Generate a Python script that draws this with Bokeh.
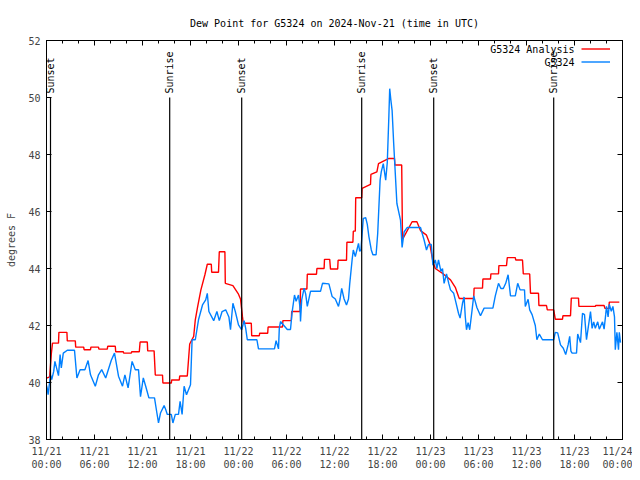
import numpy as np
import pandas as pd
from bokeh.plotting import figure
from bokeh.models import (DatetimeAxis, LinearAxis, FixedTicker, DatetimeTickFormatter,
                          Range1d, Legend, LegendItem, Label)
from bokeh.core.properties import value
from bokeh.embed import file_html
from bokeh.resources import INLINE

BASE = pd.Timestamp("2024-11-21 00:00")
TITLE = "Dew Point for G5324 on 2024-Nov-21 (time in UTC)"

# hours since 2024-11-21 00:00 UTC
analysis_hours = [0.0, 0.4, 0.6, 0.75, 1.5, 1.55, 2.55, 2.6, 3.6, 3.65, 4.65, 4.7, 5.5, 5.55,
                  6.5, 6.55, 7.6, 7.65, 8.6, 8.65, 9.6, 9.65, 10.6, 10.65, 11.6, 11.7, 12.6, 12.65,
                  13.45, 13.6, 14.5, 14.55, 15.6, 15.65, 16.6, 16.65, 17.6, 17.9, 18.4, 18.6, 18.9,
                  19.3, 19.8, 20.1, 20.6, 20.65, 21.5, 21.6, 22.3, 22.35, 23.3, 24.0, 24.25, 24.5,
                  24.6, 25.6, 25.65, 26.6, 26.65, 27.65, 27.7, 29.5, 29.55, 30.6, 30.65, 31.7, 31.75,
                  32.55, 32.6, 33.75, 33.8, 34.7, 34.75, 35.4, 35.5, 36.4, 36.45, 37.5, 37.55, 38.3,
                  38.35, 38.6, 38.65, 39.4, 39.45, 40.5, 40.55, 41.3, 41.5, 42.8, 43.5, 43.55, 44.4,
                  44.5, 45.7, 46.3, 46.75, 47.5, 47.9, 48.3, 48.6, 49.6, 50.5, 51.1, 51.5, 51.6, 53.4,
                  53.45, 54.5, 54.55, 55.5, 55.55, 56.5, 56.55, 57.5, 57.6, 58.6, 58.65, 59.5, 59.6,
                  60.4, 60.5, 61.5, 61.55, 62.5, 62.6, 63.4, 63.6, 64.5, 64.55, 65.5, 65.6, 66.5,
                  66.55, 68.6, 68.65, 69.7, 69.8, 70.3, 70.35, 71.6]
analysis_dewpt = [40.15, 40.2, 41.0, 41.38, 41.38, 41.76, 41.76, 41.46, 41.46, 41.24, 41.24, 41.15,
                  41.15, 41.24, 41.24, 41.17, 41.17, 41.27, 41.27, 41.08, 41.08, 41.03, 41.03, 41.08,
                  41.08, 41.42, 41.42, 41.11, 41.11, 40.26, 40.26, 39.98, 39.98, 40.09, 40.09, 40.23,
                  40.23, 41.35, 41.62, 42.2, 42.67, 43.25, 43.78, 44.15, 44.15, 43.87, 43.87, 44.59,
                  44.59, 43.48, 43.4, 43.1, 42.93, 42.3, 42.08, 42.08, 41.64, 41.64, 41.73, 41.73,
                  41.95, 41.95, 42.17, 42.17, 42.49, 42.49, 43.28, 43.28, 43.8, 43.8, 44.0, 44.0,
                  44.32, 44.32, 43.98, 43.98, 44.29, 44.29, 44.92, 44.92, 45.31, 45.31, 46.48, 46.48,
                  46.81, 46.95, 47.3, 47.39, 47.68, 47.86, 47.86, 47.63, 47.63, 45.02, 45.64, 45.64,
                  45.33, 45.17, 44.88, 44.24, 44.0, 43.81, 43.6, 43.34, 43.02, 42.95, 42.95, 43.31,
                  43.31, 43.63, 43.63, 43.81, 43.81, 44.1, 44.1, 44.38, 44.38, 44.3, 44.3, 43.81,
                  43.81, 43.13, 43.13, 42.7, 42.7, 42.55, 42.55, 42.22, 42.22, 42.34, 42.34, 42.96,
                  42.96, 42.67, 42.67, 42.7, 42.7, 42.6, 42.6, 42.82, 42.82]

obs_hours = [0.0, 0.08, 0.2, 0.5, 0.65, 0.9, 1.05, 1.5, 1.7, 1.85, 2.1, 2.6, 3.5, 3.8, 4.2, 4.8,
             5.2, 5.5, 6.1, 6.5, 6.9, 7.4, 8.1, 8.5, 9.0, 9.5, 9.8, 10.2, 10.7, 11.1, 11.5, 11.75,
             12.1, 12.4, 12.8, 13.5, 13.8, 14.0, 14.25, 14.7, 14.9, 15.1, 15.6, 15.8, 16.1, 16.5,
             16.7, 16.95, 17.2, 17.5, 18.0, 18.2, 18.6, 19.0, 19.5, 19.9, 20.1, 20.3, 20.9, 21.3,
             21.6, 21.95, 22.4, 22.8, 23.0, 23.3, 23.6, 24.0, 24.4, 24.7, 24.9, 25.1, 26.3, 26.5,
             28.5, 28.7, 29.0, 29.1, 29.25, 30.1, 30.5, 30.7, 31.0, 31.2, 31.5, 31.7, 31.75, 31.9,
             32.2, 32.4, 32.6, 33.0, 34.25, 34.5, 35.3, 35.7, 36.1, 36.5, 36.7, 36.9, 37.2, 37.5,
             37.75, 37.9, 38.2, 38.35, 38.6, 39.0, 39.15, 39.3, 39.6, 39.9, 40.1, 40.3, 40.6, 40.8,
             41.2, 41.4, 41.7, 41.85, 42.1, 42.4, 42.6, 42.8, 42.9, 43.05, 43.2, 43.4, 43.8, 44.25,
             44.45, 44.7, 45.1, 46.75, 47.2, 47.5, 47.75, 48.1, 48.3, 48.6, 48.8, 49.0, 49.3, 49.5,
             49.7, 50.0, 50.3, 50.5, 50.9, 51.1, 51.5, 51.7, 52.0, 52.2, 52.35, 52.5, 52.7, 52.9,
             53.2, 53.4, 53.8, 54.25, 54.7, 55.8, 56.1, 56.5, 56.8, 57.1, 57.4, 57.7, 58.0, 58.6,
             58.9, 59.2, 59.75, 59.85, 60.2, 60.4, 60.7, 61.1, 61.3, 61.6, 62.0, 63.4, 63.6, 63.9,
             64.25, 64.6, 64.9, 65.2, 65.4, 65.55, 65.7, 66.25, 66.4, 66.75, 67.0, 67.25, 67.5,
             67.7, 68.0, 68.2, 68.4, 68.6, 68.9, 69.1, 69.5, 69.7, 69.9, 70.0, 70.2, 70.35, 70.6,
             70.8, 71.0, 71.1, 71.3, 71.5, 71.6, 71.75]
obs_dewpt = [39.9, 39.81, 39.57, 40.27, 40.1, 40.39, 40.74, 40.24, 40.98, 40.51, 41.03, 41.13,
             41.13, 40.16, 40.45, 40.45, 40.77, 40.27, 39.87, 40.27, 40.45, 40.16, 40.78, 41.03,
             40.22, 39.87, 40.27, 39.81, 40.74, 40.45, 40.45, 39.5, 40.16, 39.87, 39.46, 39.46,
             38.93, 38.58, 38.93, 39.19, 39.05, 38.88, 38.88, 38.58, 38.88, 38.88, 39.34, 38.88,
             39.87, 39.57, 39.92, 41.5, 41.5, 42.2, 42.72, 42.9, 43.13, 42.49, 42.17, 42.49,
             42.17, 42.49, 42.55, 42.3, 41.85, 42.78, 42.49, 42.02, 41.85, 42.17, 41.9, 41.5,
             41.5, 41.18, 41.18, 41.47, 41.18, 41.9, 42.14, 41.86, 41.86, 42.46, 43.07, 42.85,
             43.07, 42.6, 42.14, 42.9, 43.31, 43.1, 42.67, 43.2, 43.2, 43.48, 43.46, 43.02, 42.93,
             42.67, 42.93, 43.3, 42.93, 42.72, 42.93, 43.45, 44.3, 44.65, 44.42, 44.88, 44.6,
             44.65, 45.76, 45.78, 45.55, 45.12, 44.65, 44.48, 44.48, 45.23, 47.1, 47.4, 47.68,
             47.1, 47.73, 49.38, 50.31, 49.9, 49.55, 48.38, 46.28, 45.7, 44.74, 45.28, 45.44,
             45.44, 45.0, 44.65, 44.84, 44.84, 44.12, 44.3, 44.0, 44.3, 43.9, 44.0, 43.48, 43.81,
             43.46, 43.25, 43.13, 42.9, 42.43, 42.26, 42.78, 43.0, 42.3, 41.85, 42.1, 41.85, 42.55,
             43.04, 42.63, 42.34, 42.61, 42.61, 43.04, 43.48, 43.3, 43.3, 43.48, 43.78, 43.04,
             43.04, 43.48, 43.25, 43.25, 42.67, 42.92, 42.55, 42.38, 42.0, 41.5, 41.7, 41.5, 41.5,
             41.76, 41.74, 41.32, 41.2, 40.98, 41.32, 41.62, 41.1, 41.03, 41.03, 41.7, 41.4, 42.43,
             42.38, 41.5, 41.9, 42.49, 41.9, 42.13, 41.9, 42.13, 41.87, 42.13, 41.87, 42.38, 42.67,
             42.3, 42.74, 42.5, 42.67, 42.3, 41.15, 41.76, 41.15, 41.76, 41.4]

sun_hours = [0.5, 15.4, 24.4, 39.4, 48.4, 63.4]
sun_labels = ["Sunset", "Sunrise", "Sunset", "Sunrise", "Sunset", "Sunrise"]

series_names = ["G5324 Analysis", "G5324"]
series_colors = ["#ff0000", "#0080ff"]

y_ticks = [38, 40, 42, 44, 46, 48, 50, 52]
x_major_hours = list(range(0, 73, 6))
x_minor_hours = list(range(0, 73, 2))

BASE_MS = BASE.value / 1e6


def to_ms(hours):
    return [BASE_MS + h * 3600000.0 for h in hours]


FONT = "DejaVu Sans Mono"

p = figure(width=632, height=472, x_axis_type="datetime", output_backend="svg",
           toolbar_location=None, x_range=Range1d(to_ms([0])[0], to_ms([72])[0]),
           y_range=Range1d(38, 52), min_border_left=46, min_border_right=10,
           min_border_top=40, min_border_bottom=32, title=TITLE)

p.title.text_font = FONT
p.title.text_font_size = "10px"
p.title.text_font_style = "normal"
p.title.align = "center"
p.title.text_color = "black"
p.title.standoff = 24

p.xgrid.visible = False
p.ygrid.visible = False
p.outline_line_color = "black"
p.outline_line_width = 1
p.background_fill_color = "white"

fmt = "%m/%d\n%H:%M"
xfmt = DatetimeTickFormatter(microseconds=fmt, milliseconds=fmt, seconds=fmt, minsec=fmt,
                             minutes=fmt, hourmin=fmt, hours=fmt, days=fmt, months=fmt, years=fmt,
                             strip_leading_zeros=False)
xticker = FixedTicker(ticks=to_ms(x_major_hours), minor_ticks=to_ms(x_minor_hours))
yticker = FixedTicker(ticks=y_ticks, minor_ticks=[])

xa = p.xaxis[0]
xa.ticker = xticker
xa.formatter = xfmt
xa.major_label_text_font = FONT
xa.major_label_text_font_size = "10px"
xa.major_label_standoff = 6
xa.major_tick_in = 5
xa.major_tick_out = 0
xa.minor_tick_in = 3
xa.minor_tick_out = 0
xa.axis_line_color = "black"

ya = p.yaxis[0]
ya.ticker = yticker
ya.major_label_text_font = FONT
ya.major_label_text_font_size = "10px"
ya.major_label_standoff = 6
ya.major_tick_in = 5
ya.major_tick_out = 0
ya.minor_tick_line_color = None
ya.axis_label = "degrees F"
ya.axis_label_text_font = FONT
ya.axis_label_text_font_size = "10px"
ya.axis_label_text_font_style = "normal"
ya.axis_label_standoff = 8

top = DatetimeAxis(ticker=xticker, formatter=xfmt, major_label_text_font_size="1px",
                   major_label_text_color=None, major_label_standoff=0,
                   major_tick_in=5, major_tick_out=0, minor_tick_in=3, minor_tick_out=0)
p.add_layout(top, "above")
right = LinearAxis(ticker=yticker, major_label_text_font_size="1px",
                   major_label_text_color=None, major_label_standoff=0,
                   major_tick_in=5, major_tick_out=0, minor_tick_line_color=None)
p.add_layout(right, "right")

r_an = p.line(to_ms(analysis_hours), analysis_dewpt, color=series_colors[0], line_width=1.4)
r_ob = p.line(to_ms(obs_hours), obs_dewpt, color=series_colors[1], line_width=1.4)

sun_ms = to_ms(sun_hours)
p.segment(x0=sun_ms, y0=[38] * len(sun_ms), x1=sun_ms, y1=[50] * len(sun_ms),
          line_color="black", line_width=1.2)
p.text(x=sun_ms, y=[50] * len(sun_ms), text=sun_labels, angle=np.pi / 2, text_align="left",
       text_baseline="middle", text_font=value(FONT), text_font_size="10px",
       text_color="black", y_offset=-4)

legend = Legend(items=[LegendItem(label=" ", renderers=[r_an]),
                       LegendItem(label=" ", renderers=[r_ob])],
                location=(535, 371), padding=0, margin=0, spacing=0, glyph_width=29,
                glyph_height=13, label_height=13, label_width=0, label_standoff=0,
                background_fill_alpha=0, border_line_alpha=0, label_text_font_size="10px")
p.add_layout(legend)

for name, yy in zip(series_names, [390, 377.5]):
    p.add_layout(Label(x=528, y=yy, x_units="screen", y_units="screen", text=name,
                       text_align="right", text_baseline="middle", text_font=FONT,
                       text_font_size="10px", text_color="black"))

open("out.html", "w").write(file_html(p, INLINE))
